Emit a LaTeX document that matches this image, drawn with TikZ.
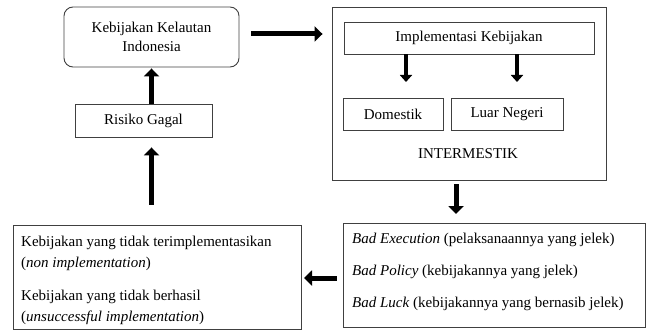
\documentclass[tikz,border=0pt]{standalone}
\usepackage{fontspec}
\setmainfont{Liberation Serif}
\usetikzlibrary{arrows.meta,calc}
\begin{document}
\begin{tikzpicture}[x=1pt,y=-1pt,
  box/.style={draw=black!75, line width=0.9pt, inner sep=0pt, font=\fontsize{15}{18.5}\selectfont},
  lbl/.style={font=\fontsize{15}{18.5}\selectfont, inner sep=0pt},
  big/.style={line width=5pt, -{Triangle[width=15pt,length=8pt]}},
  mid/.style={line width=4pt, -{Triangle[width=12pt,length=7pt]}},
]
\useasboundingbox (0,0) rectangle (652,331);
% top-left
\node[box, rounded corners=9pt, minimum width=175pt, minimum height=60pt, align=center] (kki) at (151.5,37) {Kebijakan Kelautan\\[1pt]Indonesia};
\node[box, minimum width=137pt, minimum height=33pt] (risk) at (143.5,120.5) {Risiko Gagal};
% intermestik group
\node[box, minimum width=274pt, minimum height=173pt] (outer) at (469,93.5) {};
\node[box, minimum width=250pt, minimum height=32pt] (impl) at (469,38) {Implementasi Kebijakan};
\node[box, minimum width=100pt, minimum height=32pt] (dom) at (393,114) {Domestik};
\node[box, minimum width=112pt, minimum height=32pt] (luar) at (507,114) {Luar Negeri};
\node[lbl] (inter) at (468,154) {INTERMESTIK};
% bottom boxes
\node[box, minimum width=288pt, minimum height=104pt] (left) at (157,277) {};
\node[lbl, anchor=west] (l1) at (21,243) {Kebijakan yang tidak terimplementasikan};
\node[lbl, anchor=west] (l2) at (21,264) {(\textit{non implementation})};
\node[lbl, anchor=west] (l3) at (21,297) {Kebijakan yang tidak berhasil};
\node[lbl, anchor=west] (l4) at (21,318) {(\textit{unsuccessful implementation})};
\node[box, minimum width=302pt, minimum height=104pt] (bad) at (494,275) {};
\node[lbl, anchor=west] (b1) at (352,240) {\textit{Bad Execution} (pelaksanaannya yang jelek)};
\node[lbl, anchor=west] (b2) at (352,272) {\textit{Bad Policy} (kebijakannya yang jelek)};
\node[lbl, anchor=west] (b3) at (352,304) {\textit{Bad Luck} (kebijakannya yang bernasib jelek)};
% connectors
\coordinate (t1) at (406,82);
\coordinate (t2) at (517,82);
\coordinate (dd) at (456,214);
\coordinate (la) at (304,278);
\draw[big, shorten <=12pt, shorten >=9pt] (kki.east |- 0,34) -- (outer.west |- 0,34);
\draw[big, shorten >=1pt] (risk.north -| kki.south) -- (kki.south);
\draw[big, shorten <=20pt, shorten >=10pt] (left.north -| kki.south) -- (risk.south -| kki.south);
\draw[mid] (impl.south -| t1) -- (t1);
\draw[mid] (impl.south -| t2) -- (t2);
\draw[big, shorten <=4pt] (outer.south -| dd) -- (dd);
\draw[big, shorten <=6pt] (bad.west |- la) -- (la);
\end{tikzpicture}
\end{document}
